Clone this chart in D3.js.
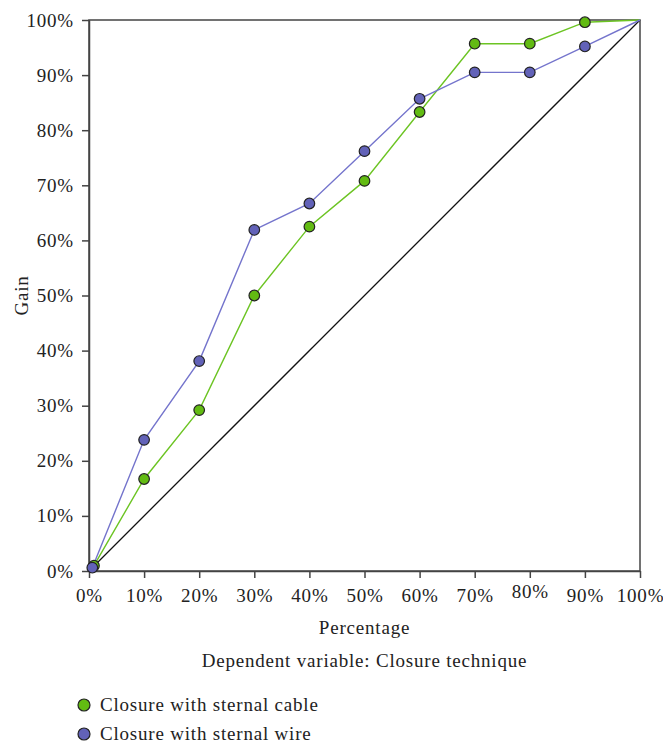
<!DOCTYPE html>
<html>
<head>
<meta charset="utf-8">
<script src="https://cdn.jsdelivr.net/npm/d3@7"></script>
<style>
  body { margin: 0; background: #fff; }
  svg text { font-family: "Liberation Serif", "DejaVu Serif", serif; fill: #222; letter-spacing: 0.8px; }
</style>
</head>
<body>
<div class="gain-chart-js"></div>
<script>
'use strict';

// Data (fractions of 1)
var percentages = [0.009, 0.1, 0.2, 0.3, 0.4, 0.5, 0.6, 0.7, 0.8, 0.9, 1.0];
var cableGain   = [0.0096, 0.167, 0.292, 0.50, 0.625, 0.708, 0.833, 0.957, 0.957, 0.996, 1.0];
var wirePct     = [0.006, 0.1, 0.2, 0.3, 0.4, 0.5, 0.6, 0.7, 0.8, 0.9, 1.0];
var wireGain    = [0.006, 0.238, 0.381, 0.619, 0.667, 0.762, 0.857, 0.905, 0.905, 0.952, 1.0];
var tickValues  = [0, 0.1, 0.2, 0.3, 0.4, 0.5, 0.6, 0.7, 0.8, 0.9, 1.0];
var seriesNames = ["Closure with sternal cable", "Closure with sternal wire"];

var App = (function() {
function run() {

  var margin = {top: 20, right: 23, bottom: 175, left: 89};
  var owidth = 663;
  var oheight = 746;
  var cwidth = owidth - margin.left - margin.right;
  var cheight = oheight - margin.top - margin.bottom;
  var fs = 19;

  var series = [
    {name: seriesNames[0], fill: "#62bb12", stroke: "#6cc423",
     points: percentages.map(function(p, i) { return {x: p, y: cableGain[i]}; })},
    {name: seriesNames[1], fill: "#6262b8", stroke: "#7474cc",
     points: wirePct.map(function(p, i) { return {x: p, y: wireGain[i]}; })}
  ];

  var xData = d3.scaleLinear().domain([0, 1]).range([0, cwidth]);
  var yData = d3.scaleLinear().domain([0, 1]).range([cheight, 0]);
  var pct = d3.format(".0%");

  var svg = d3.select(".gain-chart-js").append("svg")
    .attr("width", owidth)
    .attr("height", oheight);
  var chart = svg.append("g")
    .attr("transform", "translate(" + margin.left + "," + margin.top + ")");

  // frame
  chart.append("rect")
    .attr("width", cwidth).attr("height", cheight)
    .attr("fill", "none").attr("stroke", "#444").attr("stroke-width", 1.5);

  var xAxis = d3.axisBottom(xData).tickValues(tickValues).tickFormat(pct)
    .tickSize(7).tickSizeOuter(0).tickPadding(11);
  var yAxis = d3.axisLeft(yData).tickValues(tickValues).tickFormat(pct)
    .tickSize(7).tickSizeOuter(0).tickPadding(8);

  var gx = chart.append("g")
    .attr("transform", "translate(0," + cheight + ")")
    .call(xAxis);
  var gy = chart.append("g").call(yAxis);
  [gx, gy].forEach(function(g) {
    g.select(".domain").attr("stroke", "#444").attr("stroke-width", 1.5);
    g.selectAll(".tick line").attr("stroke", "#444").attr("stroke-width", 1.5);
    g.selectAll(".tick text").attr("font-size", fs).attr("fill", "#222")
      .style("font-family", '"Liberation Serif", serif');
  });
  // the 80% label sits a little higher in the original
  gx.selectAll(".tick text").filter(function(d) { return Math.abs(d - 0.8) < 1e-9; })
    .attr("y", 14);

  // reference diagonal
  var line = d3.line()
    .x(function(d) { return xData(d.x); })
    .y(function(d) { return yData(d.y); });

  chart.append("path")
    .datum([{x: 0, y: 0}, {x: 1, y: 1}])
    .attr("d", line)
    .attr("fill", "none")
    .attr("stroke", "#111")
    .attr("stroke-width", 1.3);

  series.forEach(function(s) {
    chart.append("path")
      .datum(s.points)
      .attr("d", line)
      .attr("fill", "none")
      .attr("stroke", s.stroke)
      .attr("stroke-width", 1.4);
  });
  series.forEach(function(s) {
    chart.selectAll(null)
      .data(s.points.slice(0, -1))
      .enter().append("circle")
      .attr("cx", function(d) { return xData(d.x); })
      .attr("cy", function(d) { return yData(d.y); })
      .attr("r", 5.3)
      .attr("fill", s.fill)
      .attr("stroke", "#222")
      .attr("stroke-width", 1.2);
  });

  // axis titles
  svg.append("text")
    .attr("transform", "translate(28," + (margin.top + cheight / 2) + ") rotate(-90)")
    .attr("text-anchor", "middle")
    .attr("font-size", fs)
    .text("Gain");
  svg.append("text")
    .attr("x", margin.left + cwidth / 2).attr("y", 634)
    .attr("text-anchor", "middle")
    .attr("font-size", fs)
    .text("Percentage");
  svg.append("text")
    .attr("x", margin.left + cwidth / 2).attr("y", 667)
    .attr("text-anchor", "middle")
    .attr("font-size", fs)
    .text("Dependent variable: Closure technique");

  // legend
  var legend = svg.append("g").selectAll("g")
    .data(series)
    .enter().append("g")
    .attr("transform", function(d, i) { return "translate(84," + (705 + i * 29) + ")"; });
  legend.append("circle")
    .attr("r", 6)
    .attr("fill", function(d) { return d.fill; })
    .attr("stroke", "#222")
    .attr("stroke-width", 1.2);
  legend.append("text")
    .attr("x", 16).attr("y", 6)
    .attr("font-size", fs)
    .text(function(d) { return d.name; });
}

return { run : run };
}());
document.addEventListener('DOMContentLoaded', App.run);
</script>
</body>
</html>
